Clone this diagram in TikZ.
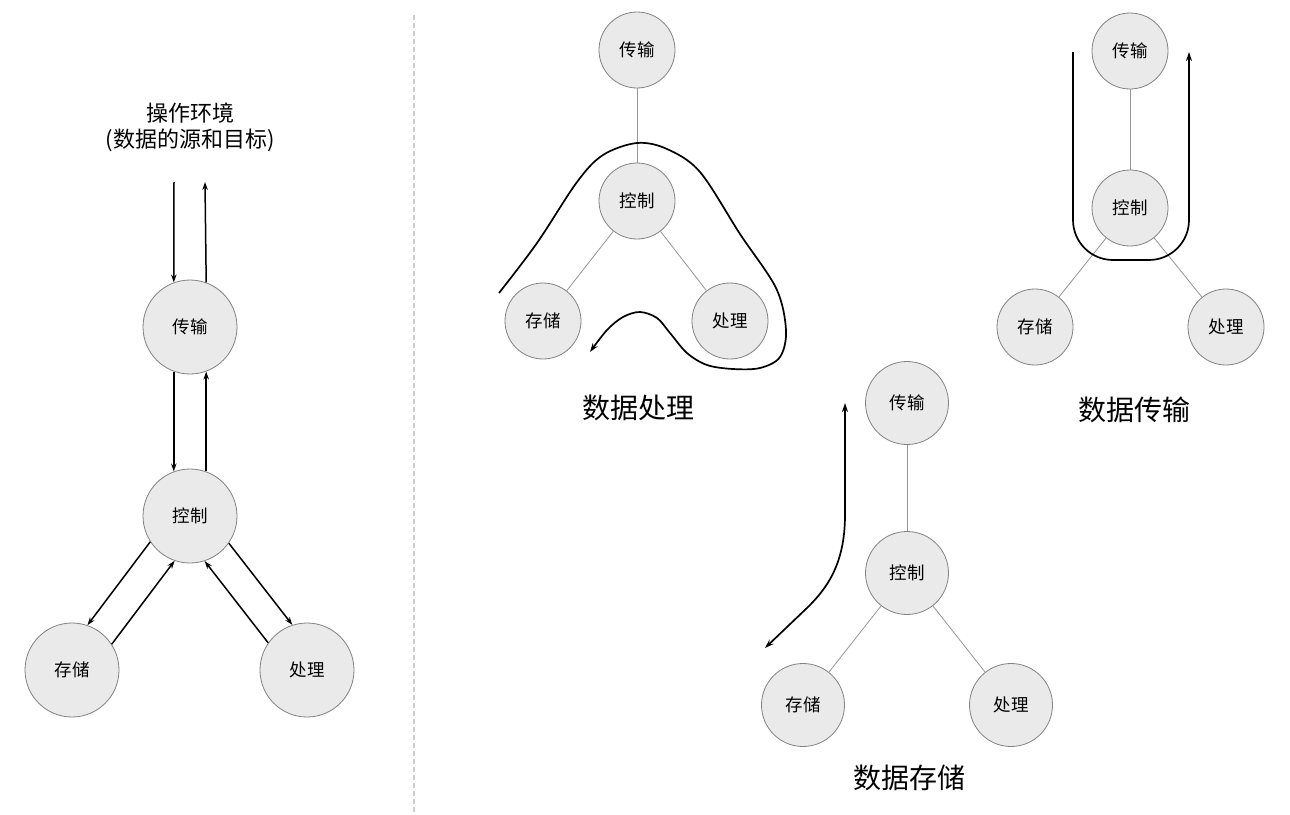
\documentclass[tikz,border=0pt]{standalone}
\usepackage{fontspec}
\newfontfamily\cjk{Noto Sans CJK SC}
\usetikzlibrary{arrows.meta}
\definecolor{cin}{RGB}{234,234,234}
\definecolor{cout}{RGB}{220,220,220}
\definecolor{rim}{RGB}{130,130,130}
\definecolor{linkc}{RGB}{150,150,150}
\definecolor{divc}{RGB}{205,205,205}
\pgfdeclareradialshading{ballshade}{\pgfpoint{0bp}{0bp}}{color(0bp)=(cin); color(38bp)=(cin); color(47bp)=(cout); color(50bp)=(cout)}
\begin{document}
\begin{tikzpicture}[x=1pt,y=-1pt,
  ball/.style={circle, draw=rim, line width=0.8pt, shading=ballshade, inner sep=0pt, font=\cjk\fontsize{17.5}{20}\selectfont},
  bigball/.style={ball, minimum size=94pt},
  smallball/.style={ball, minimum size=76pt},
  midball/.style={ball, minimum size=83pt},
  flow/.style={line width=1.5pt, -{Stealth[length=8pt,width=5.5pt]}},
  route/.style={line width=1.7pt, line join=round},
  routetip/.style={-{Stealth[length=9pt,width=6pt]}},
  linkline/.style={draw=linkc, line width=0.8pt},
  title/.style={font=\cjk\fontsize{28}{32}\selectfont}]
\useasboundingbox[fill=white] (0,0) rectangle (1290,814);

% divider
\draw[divc, line width=1.5pt, dash pattern=on 5pt off 3pt] (414,15) -- (414,812);

% ---------- left panel ----------
\node[align=center, font=\cjk\fontsize{22}{26}\selectfont] (env) at (190,127) {操作环境\\(数据的源和目标)};
\coordinate (ea) at (174,182);
\coordinate (eb) at (205,182);
\node[bigball] (t) at (190,327) {传输};
\node[bigball] (c) at (190,516) {控制};
\node[bigball] (s) at (72,670) {存储};
\node[bigball] (p) at (307,670) {处理};

\draw[flow] (ea) -- (t.110);
\draw[flow] (t.70) -- (eb);
\draw[flow] (t.250) -- (c.110);
\draw[flow] (c.70) -- (t.290);
\draw[flow] (c.213.9) -- (s.71.1);
\draw[flow] (s.33.9) -- (c.251.1);
\draw[flow] (c.325.8) -- (p.108.6);
\draw[flow] (p.145.8) -- (c.288.6);

% ---------- 数据处理 ----------
\node[smallball] (t2) at (637,50) {传输};
\node[smallball] (c2) at (637,201) {控制};
\node[smallball] (s2) at (543,321) {存储};
\node[smallball] (p2) at (730,321) {处理};
\draw[linkline] (t2) -- (c2);
\draw[linkline] (c2) -- (s2);
\draw[linkline] (c2) -- (p2);
\draw[route, routetip] plot[smooth, tension=0.55] coordinates {
  (499,293) (537,243) (577,182) (603,155) (637,143) (667,149) (700,172)
  (740,234) (776,288) (786,330) (780,357) (760,368) (733,369) (707,365)
  (687,353) (670,333) (657,318) (640,312) (623,317) (607,330) (590,352)};
\node[title] (l2) at (638,408) {数据处理};

% ---------- 数据传输 ----------
\node[smallball] (t3) at (1130,51) {传输};
\node[smallball] (c3) at (1130,208) {控制};
\node[smallball] (s3) at (1035,327) {存储};
\node[smallball] (p3) at (1226,327) {处理};
\draw[linkline] (t3) -- (c3);
\draw[linkline] (c3) -- (s3);
\draw[linkline] (c3) -- (p3);
\draw[route, routetip, rounded corners=40pt] (1073,52) -- (1073,260) -- (1189,260) -- (1189,52);
\node[title] (l3) at (1134,410) {数据传输};

% ---------- 数据存储 ----------
\node[midball] (t4) at (907,403) {传输};
\node[midball] (c4) at (907,573) {控制};
\node[midball] (s4) at (803,705) {存储};
\node[midball] (p4) at (1011,705) {处理};
\draw[linkline] (t4) -- (c4);
\draw[linkline] (c4) -- (s4);
\draw[linkline] (c4) -- (p4);
\draw[route, {Stealth[length=9pt,width=6pt]}-{Stealth[length=9pt,width=6pt]}]
  (765,648) -- (808,607) .. controls (826,589) and (845,565) .. (845,515) -- (845,403);
\node[title] (l4) at (909,778) {数据存储};
\end{tikzpicture}
\end{document}
